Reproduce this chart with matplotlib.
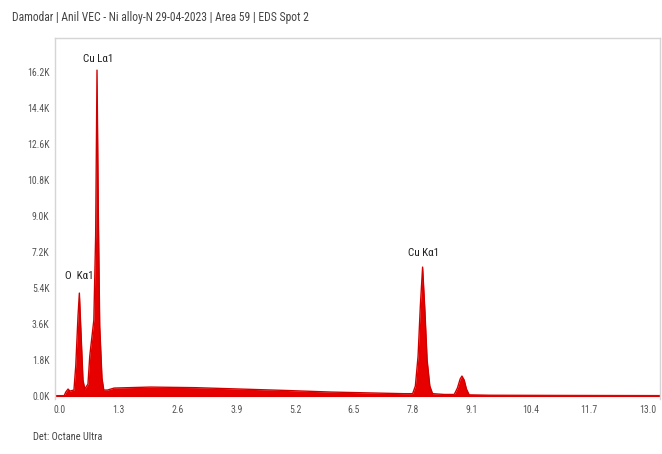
import matplotlib
matplotlib.use("Agg")
import matplotlib.pyplot as plt

# Spectrum outline (energy keV, counts in K)
energy = [0.09, 0.13, 0.18, 0.22, 0.31, 0.35, 0.40, 0.43, 0.46, 0.51, 0.55,
          0.62, 0.66, 0.71, 0.75, 0.79, 0.82, 0.85, 0.88, 0.93, 0.97,
          1.05, 1.2, 2.0, 3.0, 4.0, 5.0, 6.0, 7.0, 7.6,
          7.80, 7.86, 7.92, 7.97, 8.02, 8.07, 8.12, 8.18, 8.24,
          8.50, 8.72, 8.79, 8.85, 8.89, 8.94, 8.99, 9.05, 9.5, 11.0, 13.3]
counts_k = [0.0, 0.2, 0.35, 0.25, 0.3, 1.5, 4.0, 5.15, 3.5, 0.8, 0.35,
            0.6, 2.0, 3.0, 3.8, 8.0, 16.3, 9.0, 3.5, 0.9, 0.3,
            0.3, 0.4, 0.45, 0.42, 0.35, 0.28, 0.2, 0.15, 0.12,
            0.12, 0.5, 2.0, 4.5, 6.45, 4.3, 1.8, 0.5, 0.12,
            0.08, 0.08, 0.4, 0.85, 1.0, 0.8, 0.35, 0.06, 0.04, 0.03, 0.02]

x_ticks = [0.0, 1.3, 2.6, 3.9, 5.2, 6.5, 7.8, 9.1, 10.4, 11.7, 13.0]
y_ticks = [0.0, 1.8, 3.6, 5.4, 7.2, 9.0, 10.8, 12.6, 14.4, 16.2]

peak_labels = ["O  K\u03b11", "Cu L\u03b11", "Cu K\u03b11"]
peak_x = [0.12, 0.85, 8.05]
peak_y = [5.75, 16.6, 6.9]

title = "Damodar | Anil VEC - Ni alloy-N 29-04-2023 | Area 59 | EDS Spot 2"
footer = "Det: Octane Ultra"

fam = ["Liberation Sans Narrow", "DejaVu Sans Condensed", "Roboto Condensed", "DejaVu Sans"]
gray = "#555555"
tkw = dict(fontfamily=fam, fontstretch="condensed")

fig = plt.figure(figsize=(6.62, 4.54), dpi=100)
ax = fig.add_axes([0.083, 0.121, 0.914, 0.795])

ax.fill_between(energy, 0, counts_k, color="#e60000", linewidth=0)
ax.plot(energy, counts_k, color="#d00000", linewidth=1.0)
ax.axhline(0, color="#e00000", linewidth=1.5)

ax.set_xlim(-0.11, 13.27)
ax.set_ylim(-0.15, 17.9)
ax.set_xticks(x_ticks)
ax.set_xticklabels([f"{v:.1f}" for v in x_ticks], fontsize=7, color=gray, **tkw)
ax.set_yticks(y_ticks)
ax.set_yticklabels([f"{v:.1f}K" for v in y_ticks], fontsize=7, color=gray, **tkw)
ax.tick_params(length=0, pad=4)

for s in ["top", "left", "right"]:
    ax.spines[s].set_color("#d5d5d5")
    ax.spines[s].set_linewidth(1.0)
ax.spines["bottom"].set_visible(False)

for lab, px, py in zip(peak_labels, peak_x, peak_y):
    ha = "left" if lab.startswith("O") else "center"
    ax.text(px, py, lab, ha=ha, va="bottom", fontsize=8, color="#222222", **tkw)

fig.text(12 / 662, 1 - 18 / 454, title, ha="left", va="center",
         fontsize=8.4, color="#444444", **tkw)
fig.text(33 / 662, 1 - 437 / 454, footer, ha="left", va="center",
         fontsize=7.5, color="#444444", **tkw)

fig.savefig("out.png", dpi=100)
